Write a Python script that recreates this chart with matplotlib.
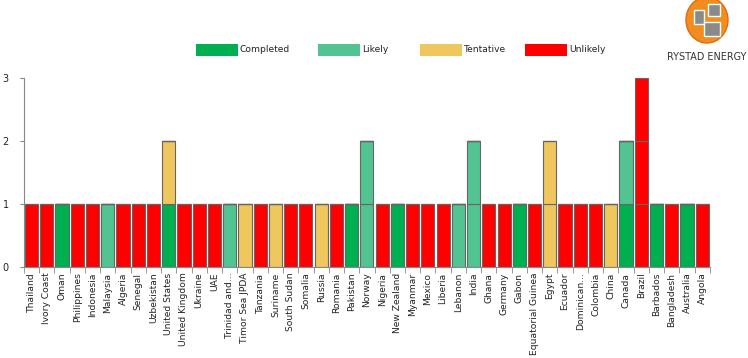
import matplotlib
matplotlib.use('Agg')
import matplotlib.pyplot as plt
from matplotlib.patches import Rectangle, Ellipse

countries = ['Thailand', 'Ivory Coast', 'Oman', 'Philippines', 'Indonesia', 'Malaysia',
             'Algeria', 'Senegal', 'Uzbekistan', 'United States', 'United Kingdom',
             'Ukraine', 'UAE', 'Trinidad and...', 'Timor Sea JPDA', 'Tanzania',
             'Suriname', 'South Sudan', 'Somalia', 'Russia', 'Romania', 'Pakistan',
             'Norway', 'Nigeria', 'New Zealand', 'Myanmar', 'Mexico', 'Liberia',
             'Lebanon', 'India', 'Ghana', 'Germany', 'Gabon', 'Equatorial Guinea',
             'Egypt', 'Ecuador', 'Dominican...', 'Colombia', 'China', 'Canada',
             'Brazil', 'Barbados', 'Bangladesh', 'Australia', 'Angola']

completed = [0, 0, 1, 0, 0, 0, 0, 0, 0, 1, 0, 0, 0, 0, 0, 0, 0, 0, 0, 0, 0, 1, 0, 0, 1,
             0, 0, 0, 0, 0, 0, 0, 1, 0, 0, 0, 0, 0, 0, 1, 0, 1, 0, 1, 0]
likely = [0, 0, 0, 0, 0, 1, 0, 0, 0, 0, 0, 0, 0, 1, 0, 0, 0, 0, 0, 0, 0, 0, 2, 0, 0,
          0, 0, 0, 1, 2, 0, 0, 0, 0, 0, 0, 0, 0, 0, 1, 0, 0, 0, 0, 0]
tentative = [0, 0, 0, 0, 0, 0, 0, 0, 0, 1, 0, 0, 0, 0, 1, 0, 1, 0, 0, 1, 0, 0, 0, 0, 0,
             0, 0, 0, 0, 0, 0, 0, 0, 0, 2, 0, 0, 0, 1, 0, 0, 0, 0, 0, 0]
unlikely = [1, 1, 0, 1, 1, 0, 1, 1, 1, 0, 1, 1, 1, 0, 0, 1, 0, 1, 1, 0, 1, 0, 0, 1, 0,
            1, 1, 1, 0, 0, 1, 1, 0, 1, 0, 1, 1, 1, 0, 0, 3, 0, 1, 0, 1]

series = [('Completed', completed, '#00b050'),
          ('Likely', likely, '#52c492'),
          ('Tentative', tentative, '#f0c75e'),
          ('Unlikely', unlikely, '#ff0000')]

fig = plt.figure(figsize=(7.48, 3.58), dpi=100)
ax = fig.add_axes([0.032, 0.254, 0.917, 0.528])

x = list(range(len(countries)))
base = [0] * len(countries)
for name, vals, col in series:
    # one segment per unit, like the original
    for k in range(max(vals)):
        h = [1 if v > k else 0 for v in vals]
        ax.bar(x, h, bottom=base, width=0.86, color=col, edgecolor='#666666', linewidth=0.8)
        base = [b + hh for b, hh in zip(base, h)]

ax.set_xlim(-0.5, len(countries) - 0.5)
ax.set_ylim(0, 3)
ax.set_yticks([0, 1, 2, 3])
ax.set_xticks(x)
ax.set_xticklabels(countries, rotation=90, fontsize=6.6, color='#222222')
ax.set_xticks([i - 0.5 for i in range(len(countries) + 1)], minor=True)
ax.tick_params(axis='x', which='major', length=0, pad=4)
ax.tick_params(axis='x', which='minor', length=4, color='#888888')
ax.tick_params(axis='y', length=3, color='#888888', labelsize=7, labelcolor='#222222', pad=8)
for s in ['top', 'right']:
    ax.spines[s].set_visible(False)
for s in ['left', 'bottom']:
    ax.spines[s].set_color('#888888')

# legend
leg_x = [196, 318, 420, 525]
for (name, vals, col), lx in zip(series, leg_x):
    fig.patches.append(Rectangle((lx / 748, 1 - 56 / 358), 42 / 748, 12 / 358,
                                 transform=fig.transFigure, facecolor=col, edgecolor='none'))
    fig.text((lx + 44) / 748, 1 - 50 / 358, name, fontsize=6.6, va='center', color='#222222')

# logo
fig.patches.append(Ellipse((707 / 748, 1 - 20 / 358), 42 / 748, 46 / 358,
                           transform=fig.transFigure, facecolor='#f28c1e', edgecolor='#e06a10'))
for rx, ry, rw, rh in [(694, 10, 10, 14), (708, 4, 12, 12), (704, 22, 16, 14)]:
    fig.patches.append(Rectangle((rx / 748, 1 - (ry + rh) / 358), rw / 748, rh / 358,
                                 transform=fig.transFigure, facecolor='#8a8a8a',
                                 edgecolor='white', linewidth=1))
fig.text(707 / 748, 1 - 57 / 358, 'RYSTAD ENERGY', fontsize=6.9, ha='center', va='center', color='#333333')

fig.savefig('out.png', dpi=100)
